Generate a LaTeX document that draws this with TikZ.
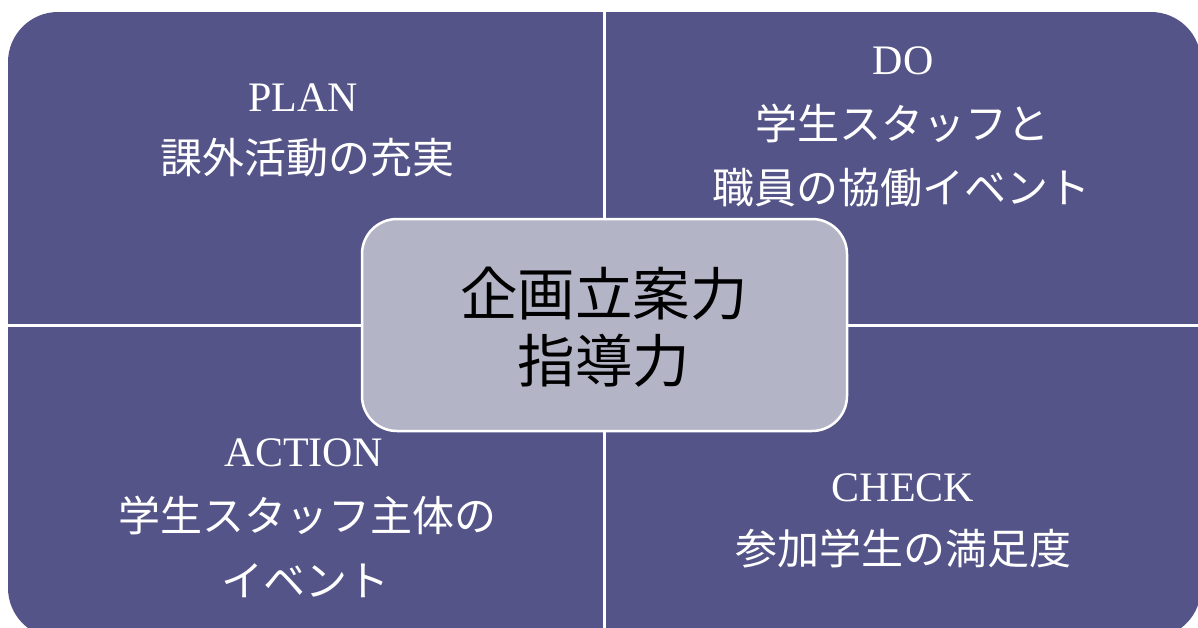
\documentclass[tikz,border=0pt]{standalone}
\usepackage{fontspec}
\setmainfont{Liberation Serif}
\newfontfamily\jp{Noto Sans CJK JP}
\definecolor{quad}{RGB}{84,84,136}
\definecolor{core}{RGB}{180,180,199}
\begin{document}
\begin{tikzpicture}[x=1pt,y=-1pt,
  lbl/.style={text=white,anchor=base,inner sep=0pt,font=\fontsize{42}{50}\selectfont},
  jlbl/.style={lbl,font=\fontsize{42}{50}\selectfont\jp},
  clbl/.style={text=black,anchor=base,inner sep=0pt,font=\fontsize{57.5}{66}\selectfont\jp},
  corebox/.style={draw=white,line width=2.5pt,fill=core,rounded corners=35pt,
    minimum width=485pt,minimum height=212pt,inner sep=0pt},
  gap/.style={draw=white,line width=3pt}]
\useasboundingbox (0,0) rectangle (1198,627);
% quadrants
\fill[quad,rounded corners=50pt] (8,12) rectangle (1201,638);
\coordinate (vt) at (604.5,0);
\coordinate (vb) at (604.5,640);
\coordinate (hl) at (0,325);
\coordinate (hr) at (1205,325);
\draw[gap] (vt) -- (vb);
\draw[gap] (hl) -- (hr);
% centre
\node[corebox] (core) at (604.5,325) {};
\node[clbl] (c1) at (604,315) {企画立案力};
\node[clbl] (c2) at (604,382) {指導力};
% PLAN
\node[lbl] (p1) at (303,111) {PLAN};
\node[jlbl] (p2) at (307,173) {課外活動の充実};
% DO
\node[lbl] (d1) at (903,74) {DO};
\node[jlbl] (d2) at (902,139) {学生スタッフと};
\node[jlbl] (d3) at (901,203) {職員の協働イベント};
% ACTION
\node[lbl] (a1) at (304,466) {ACTION};
\node[jlbl] (a2) at (307,531) {学生スタッフ主体の};
\node[jlbl] (a3) at (305,596) {イベント};
% CHECK
\node[lbl] (k1) at (903,501) {CHECK};
\node[jlbl] (k2) at (903,564) {参加学生の満足度};
\end{tikzpicture}
\end{document}
